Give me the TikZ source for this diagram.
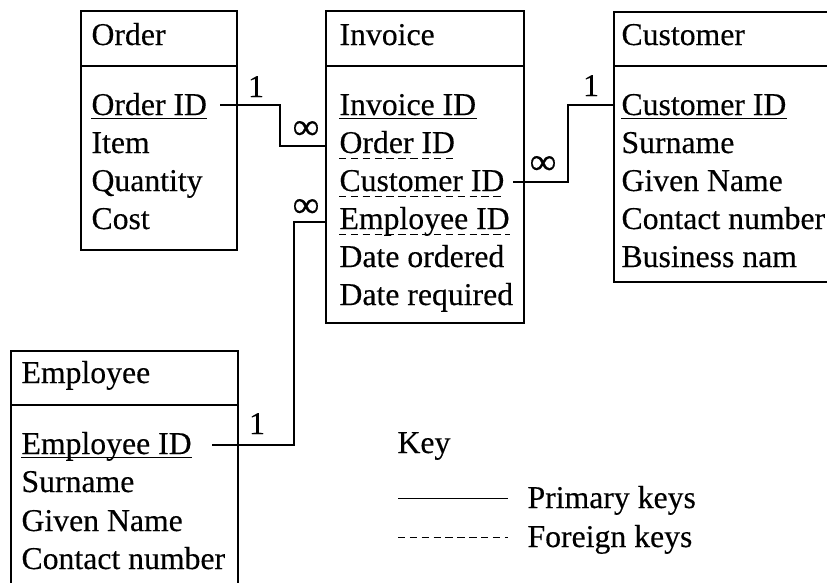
\documentclass[tikz,border=0pt]{standalone}
\usepackage{fontspec}
\setmainfont{Liberation Serif}[FakeBold=0.3]
\begin{document}
\begin{tikzpicture}[x=0.75pt,y=-0.75pt,
  line width=0.8pt,
  every node/.style={inner sep=0pt, font=\fontsize{23.8}{28}\selectfont},
  fld/.style={anchor=base west},
  lbl/.style={anchor=base},
  sym/.style={anchor=center, font=\fontsize{28}{30}\selectfont},
  boxline/.style={line width=0.8pt},
  pkline/.style={line width=0.75pt},
  fkline/.style={line width=0.75pt, dash pattern=on 5.5pt off 3.4pt},
  conn/.style={line width=0.8pt}]
\useasboundingbox (0,0) rectangle (827,582);

% ---------- boxes ----------
\draw[boxline] (81,11) rectangle (237,250);
\draw[boxline] (81,66) -- (237,66);
\draw[boxline] (326,11) rectangle (524,323);
\draw[boxline] (326,66) -- (524,66);
\draw[boxline] (840,12) -- (614,12) -- (614,282) -- (840,282);
\draw[boxline] (614,66) -- (840,66);
\draw[boxline] (11,600) -- (11,351) -- (238,351) -- (238,600);
\draw[boxline] (11,405) -- (238,405);

% ---------- Order ----------
\node[fld] (oT) at (91,45) {Order};
\node[fld] (oId) at (91,115) {Order ID};
\node[fld] (oItem) at (91,153) {Item};
\node[fld] (oQty) at (91,191) {Quantity};
\node[fld] (oCost) at (91,229) {Cost};

% ---------- Invoice ----------
\node[fld] (iT) at (339,45) {Invoice};
\node[fld] (iId) at (339,115) {Invoice ID};
\node[fld] (iOrd) at (339,153) {Order ID};
\node[fld] (iCus) at (339,191) {Customer ID};
\node[fld] (iEmp) at (339,229) {Employee ID};
\node[fld] (iDo) at (339,267) {Date ordered};
\node[fld] (iDr) at (339,305) {Date required};

% ---------- Customer ----------
\node[fld] (cT) at (621,45) {Customer};
\node[fld] (cId) at (621,115) {Customer ID};
\node[fld] (cSur) at (621,153) {Surname};
\node[fld] (cGiv) at (621,191) {Given Name};
\node[fld] (cCon) at (621,229) {Contact number};
\node[fld] (cBus) at (621,267) {Business nam};

% ---------- Employee ----------
\node[fld] (eT) at (21,383) {Employee};
\node[fld] (eId) at (21,454) {Employee ID};
\node[fld] (eSur) at (21,492) {Surname};
\node[fld] (eGiv) at (21,531) {Given Name};
\node[fld] (eCon) at (21,569) {Contact number};

% ---------- underlines ----------
\draw[pkline] ([yshift=-2.8pt]oId.base west) -- ([yshift=-2.8pt]oId.base east);
\draw[pkline] ([yshift=-2.8pt]iId.base west) -- ([yshift=-2.8pt]iId.base east);
\draw[pkline] ([yshift=-2.8pt]cId.base west) -- ([yshift=-2.8pt]cId.base east);
\draw[pkline] ([yshift=-2.6pt]eId.base west) -- ([yshift=-2.6pt]eId.base east);
\draw[fkline] ([yshift=-4.2pt]iOrd.base west) -- ([yshift=-4.2pt]iOrd.base east);
\draw[fkline] ([yshift=-4.2pt]iCus.base west) -- ([yshift=-4.2pt]iCus.base east);
\draw[fkline] ([yshift=-4.2pt]iEmp.base west) -- ([yshift=-4.2pt]iEmp.base east);

% ---------- connectors ----------
\coordinate (o1) at (220,105);
\coordinate (i1) at (326,146);
\draw[conn] (o1) -- (280,105) |- (i1);
\node[lbl] (l1a) at (256,97) {1};
\node[sym] (l1b) at (306,130) {∞};

\coordinate (i2) at (513,182);
\coordinate (c2) at (614,105);
\draw[conn] (i2) -- (568,182) |- (c2);
\node[lbl] (l2a) at (591,96) {1};
\node[sym] (l2b) at (543,165) {∞};

\coordinate (e3) at (212,445);
\coordinate (i3) at (326,222);
\draw[conn] (e3) -- (294,445) |- (i3);
\node[lbl] (l3a) at (257,434) {1};
\node[sym] (l3b) at (306,208) {∞};

% ---------- key ----------
\node[fld] (kT) at (397,453) {Key};
\node[fld] (kP) at (527,508) {Primary keys};
\node[fld] (kF) at (527,547) {Foreign keys};
\coordinate (kp1) at (398,498);
\coordinate (kp2) at (508,498);
\coordinate (kf1) at (398,537);
\coordinate (kf2) at (508,537);
\draw[pkline] (kp1) -- (kp2);
\draw[fkline] (kf1) -- (kf2);
\end{tikzpicture}
\end{document}
